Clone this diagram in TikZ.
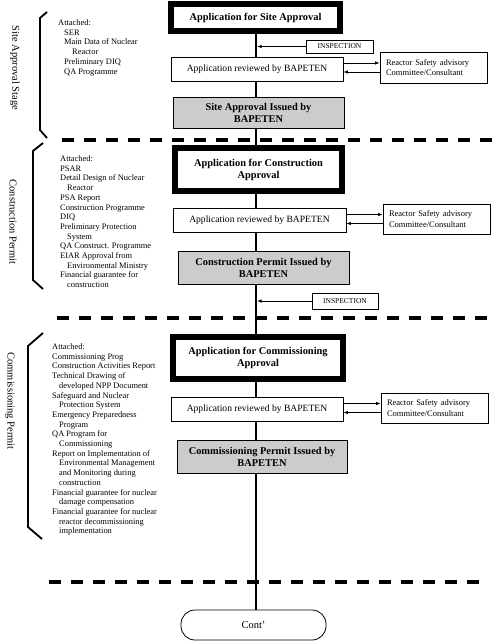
\documentclass[tikz,border=0pt]{standalone}
\usepackage{fontspec}
\setmainfont{Liberation Serif}
\usetikzlibrary{arrows.meta}
\begin{document}
\begin{tikzpicture}[x=1pt,y=-1pt,
  thickbox/.style={draw, line width=6pt, fill=white, inner sep=0, align=center, font=\fontsize{10.4}{12}\selectfont\bfseries},
  revbox/.style={draw, line width=0.8pt, fill=white, inner sep=0, font=\fontsize{9.6}{11}\selectfont},
  issbox/.style={draw, line width=0.9pt, fill=gray!40, inner sep=0, align=center, font=\fontsize{10.4}{12}\selectfont\bfseries},
  rsbox/.style={draw, line width=0.8pt, fill=white, text width=95pt, inner xsep=6pt, inner ysep=0, align=left, font=\fontsize{8.5}{10.5}\selectfont},
  inspbox/.style={draw, line width=0.8pt, fill=white, inner sep=0, font=\fontsize{7.5}{9}\selectfont},
  contbox/.style={draw, line width=0.8pt, fill=white, rounded corners=14pt, inner sep=0, font=\fontsize{10.5}{12}\selectfont},
  spine/.style={line width=2.2pt},
  arr/.style={-{Latex[length=4.5pt,width=3.5pt]}, line width=0.8pt},
  sep/.style={line width=3.5pt, dash pattern=on 12pt off 10pt},
  brk/.style={line width=1.8pt},
  side/.style={rotate=-90, inner sep=0, font=\fontsize{10.5}{12}\selectfont},
  list/.style={anchor=north west, align=left, inner sep=0, font=\fontsize{8.4}{9.7}\selectfont}
]
\useasboundingbox (0,0) rectangle (499,644);
\coordinate (sx) at (256,0);

% separators
\draw[sep] (62,140) -- (499,140);
\draw[sep] (57,318) -- (492,318);
\draw[sep] (49,582) -- (485,582);

% stage 1
\node[thickbox, minimum width=169pt, minimum height=27pt] (box1) at (255.5,17.5) {Application for Site Approval};
\node[inspbox, minimum width=67pt, minimum height=13pt] (insp1) at (339.5,46.5) {INSPECTION};
\node[revbox, minimum width=172pt, minimum height=24pt] (rev1) at (257,69) {Application reviewed by BAPETEN};
\node[rsbox, minimum height=31pt] (rs1) at (433.5,67.5) {Reactor Safety advisory\\Committee/Consultant};
\node[issbox, minimum width=171pt, minimum height=31pt] (iss1) at (258.5,112.5) {Site Approval Issued by\\BAPETEN};

% stage 2
\node[thickbox, minimum width=167pt, minimum height=43pt] (box2) at (258.5,169.5) {Application for Construction\\Approval};
\node[revbox, minimum width=173pt, minimum height=24pt] (rev2) at (259.5,220) {Application reviewed by BAPETEN};
\node[rsbox, minimum height=30pt] (rs2) at (436.5,219) {Reactor Safety advisory\\Committee/Consultant};
\node[issbox, minimum width=171pt, minimum height=33pt] (iss2) at (263.5,267.5) {Construction Permit Issued by\\BAPETEN};
\node[inspbox, minimum width=66pt, minimum height=16pt] (insp2) at (345,301) {INSPECTION};

% stage 3
\node[thickbox, minimum width=170pt, minimum height=42pt] (box3) at (258,358) {Application for Commissioning\\Approval};
\node[revbox, minimum width=172pt, minimum height=24pt] (rev3) at (257,409) {Application reviewed by BAPETEN};
\node[rsbox, minimum height=30pt] (rs3) at (434.5,408) {Reactor Safety advisory\\Committee/Consultant};
\node[issbox, minimum width=170pt, minimum height=33pt] (iss3) at (262,456.5) {Commissioning Permit Issued by\\BAPETEN};

\node[contbox, minimum width=145pt, minimum height=30pt] (cont) at (253.5,625) {Cont'};

% spine
\draw[spine] (box1.south -| sx) -- (rev1.north -| sx);
\draw[spine] (rev1.south -| sx) -- (iss1.north -| sx);
\draw[spine] (iss1.south -| sx) -- (box2.north -| sx);
\draw[spine] (box2.south -| sx) -- (rev2.north -| sx);
\draw[spine] (rev2.south -| sx) -- (iss2.north -| sx);
\draw[spine] (iss2.south -| sx) -- (box3.north -| sx);
\draw[spine] (box3.south -| sx) -- (rev3.north -| sx);
\draw[spine] (rev3.south -| sx) -- (iss3.north -| sx);
\draw[spine] (iss3.south -| sx) -- (cont.north -| sx);

% inspection arrows
\draw[arr, shorten >=1.1pt] (insp1.west) -- (insp1.west -| sx);
\draw[arr, shorten >=1.1pt] (insp2.west) -- (insp2.west -| sx);

% advisory arrows
\draw[arr] ([yshift=4.5pt]rs1.west -| rev1.east) -- ([yshift=4.5pt]rs1.west);
\draw[arr] ([yshift=-4.5pt]rs1.west) -- ([yshift=-4.5pt]rs1.west -| rev1.east);
\draw[arr] ([yshift=4.5pt]rs2.west -| rev2.east) -- ([yshift=4.5pt]rs2.west);
\draw[arr] ([yshift=-4.5pt]rs2.west) -- ([yshift=-4.5pt]rs2.west -| rev2.east);
\draw[arr] ([yshift=4.5pt]rs3.west -| rev3.east) -- ([yshift=4.5pt]rs3.west);
\draw[arr] ([yshift=-4.5pt]rs3.west) -- ([yshift=-4.5pt]rs3.west -| rev3.east);

% brackets
\draw[brk] (47,12) -- (40,18) -- (40,130) -- (47,138);
\draw[brk] (43,143) -- (33,151) -- (33,280) -- (43,289);
\draw[brk] (43,333) -- (28,346) -- (28,527) -- (42,539);

% side labels
\node[side] (lab1) at (15,68) {Site Approval Stage};
\node[side] (lab2) at (13,222) {Construction Permit};
\node[side] (lab3) at (10,401) {Commissioning Permit};

% lists
\node[list] (list1) at (58,19.5) {Attached:\\
\hspace*{6pt}SER\\
\hspace*{6pt}Main Data of Nuclear\\
\hspace*{14pt}Reactor\\
\hspace*{6pt}Preliminary DIQ\\
\hspace*{6pt}QA Programme};

\node[list] (list2) at (60,155.5) {Attached:\\
PSAR\\
Detail Design of  Nuclear\\
\hspace*{7pt}Reactor\\
PSA Report\\
Construction Programme\\
DIQ\\
Preliminary Protection\\
\hspace*{7pt}System\\
QA Construct. Programme\\
EIAR Approval from\\
\hspace*{7pt}Environmental Ministry\\
Financial guarantee for\\
\hspace*{7pt}construction};

\node[list] (list3) at (52,343.5) {Attached:\\
Commissioning Prog\\
Construction Activities Report\\
Technical Drawing  of\\
\hspace*{7pt}developed NPP Document\\
Safeguard and Nuclear\\
\hspace*{7pt}Protection System\\
Emergency Preparedness\\
\hspace*{7pt}Program\\
QA Program for\\
\hspace*{7pt}Commissioning\\
Report on Implementation of\\
\hspace*{7pt}Environmental Management\\
\hspace*{7pt}and Monitoring during\\
\hspace*{7pt}construction\\
Financial guarantee for nuclear\\
\hspace*{7pt}damage compensation\\
Financial guarantee for nuclear\\
\hspace*{7pt}reactor decommissioning\\
\hspace*{7pt}implementation};
\end{tikzpicture}
\end{document}
